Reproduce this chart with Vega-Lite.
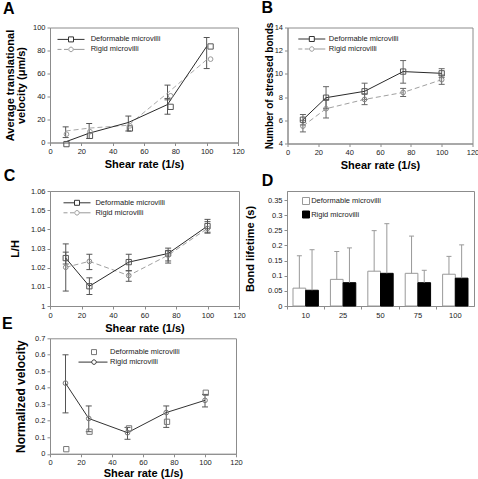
{
  "$schema": "https://vega.github.io/schema/vega-lite/v6.json",
  "background": "white",
  "padding": {"left": 1, "top": -1.5, "right": 0, "bottom": 0},
  "datasets": {
    "A_line": [
      {"x": 10, "y": 0.6, "series": "Deformable microvilli"},
      {"x": 25, "y": 8.1, "series": "Deformable microvilli"},
      {"x": 50, "y": 17.4, "series": "Deformable microvilli"},
      {"x": 75, "y": 33, "series": "Deformable microvilli"},
      {"x": 100, "y": 83.5, "series": "Deformable microvilli"},
      {"x": 10, "y": 10, "series": "Rigid microvilli"},
      {"x": 25, "y": 12.5, "series": "Rigid microvilli"},
      {"x": 50, "y": 15, "series": "Rigid microvilli"},
      {"x": 75, "y": 43, "series": "Rigid microvilli"},
      {"x": 100, "y": 72, "series": "Rigid microvilli"}
    ],
    "A_mk": [
      {"x": 10.5, "y": -1.4, "series": "Deformable microvilli"},
      {"x": 25.5, "y": 5.8, "series": "Deformable microvilli"},
      {"x": 51, "y": 12.2, "series": "Deformable microvilli"},
      {"x": 77, "y": 31, "series": "Deformable microvilli"},
      {"x": 102.5, "y": 83.5, "series": "Deformable microvilli"},
      {"x": 10.5, "y": 7.2, "series": "Rigid microvilli"},
      {"x": 25.5, "y": 9.4, "series": "Rigid microvilli"},
      {"x": 51, "y": 14.5, "series": "Rigid microvilli"},
      {"x": 77, "y": 40.6, "series": "Rigid microvilli"},
      {"x": 102.5, "y": 72.5, "series": "Rigid microvilli"}
    ],
    "A_err": [
      {"x": 10, "lo": 4.3, "hi": 13.6},
      {"x": 25, "lo": 3.5, "hi": 16.5},
      {"x": 50, "lo": 10, "hi": 23},
      {"x": 75, "lo": 24.6, "hi": 38.3},
      {"x": 75, "lo": 37.1, "hi": 49.9},
      {"x": 100, "lo": 64.3, "hi": 91.3}
    ],
    "B_line": [
      {"x": 10, "y": 6.05, "series": "Deformable microvilli"},
      {"x": 25, "y": 7.95, "series": "Deformable microvilli"},
      {"x": 50, "y": 8.5, "series": "Deformable microvilli"},
      {"x": 75, "y": 10.2, "series": "Deformable microvilli"},
      {"x": 100, "y": 10.05, "series": "Deformable microvilli"},
      {"x": 10, "y": 5.5, "series": "Rigid microvilli"},
      {"x": 25, "y": 7.0, "series": "Rigid microvilli"},
      {"x": 50, "y": 7.8, "series": "Rigid microvilli"},
      {"x": 75, "y": 8.4, "series": "Rigid microvilli"},
      {"x": 100, "y": 9.5, "series": "Rigid microvilli"}
    ],
    "B_err": [
      {"x": 10, "lo": 5.6, "hi": 6.5, "series": "Deformable microvilli"},
      {"x": 25, "lo": 7.0, "hi": 8.9, "series": "Deformable microvilli"},
      {"x": 50, "lo": 7.8, "hi": 9.2, "series": "Deformable microvilli"},
      {"x": 75, "lo": 9.2, "hi": 11.15, "series": "Deformable microvilli"},
      {"x": 100, "lo": 9.7, "hi": 10.45, "series": "Deformable microvilli"},
      {"x": 10, "lo": 5.0, "hi": 6.0, "series": "Rigid microvilli"},
      {"x": 25, "lo": 6.2, "hi": 7.8, "series": "Rigid microvilli"},
      {"x": 50, "lo": 7.35, "hi": 8.25, "series": "Rigid microvilli"},
      {"x": 75, "lo": 8.05, "hi": 8.75, "series": "Rigid microvilli"},
      {"x": 100, "lo": 9.1, "hi": 9.9, "series": "Rigid microvilli"}
    ],
    "C_line": [
      {"x": 10, "y": 1.025, "series": "Deformable microvilli"},
      {"x": 25, "y": 1.0103, "series": "Deformable microvilli"},
      {"x": 50, "y": 1.0229, "series": "Deformable microvilli"},
      {"x": 75, "y": 1.0274, "series": "Deformable microvilli"},
      {"x": 100, "y": 1.0417, "series": "Deformable microvilli"},
      {"x": 10, "y": 1.0202, "series": "Rigid microvilli"},
      {"x": 25, "y": 1.0233, "series": "Rigid microvilli"},
      {"x": 50, "y": 1.0159, "series": "Rigid microvilli"},
      {"x": 75, "y": 1.0265, "series": "Rigid microvilli"},
      {"x": 100, "y": 1.0405, "series": "Rigid microvilli"}
    ],
    "C_err": [
      {"x": 10, "lo": 1.0219, "hi": 1.0281, "series": "Deformable microvilli"},
      {"x": 25, "lo": 1.006, "hi": 1.0147, "series": "Deformable microvilli"},
      {"x": 50, "lo": 1.0184, "hi": 1.027, "series": "Deformable microvilli"},
      {"x": 75, "lo": 1.0235, "hi": 1.0302, "series": "Deformable microvilli"},
      {"x": 100, "lo": 1.0385, "hi": 1.0452, "series": "Deformable microvilli"},
      {"x": 10, "lo": 1.0078, "hi": 1.0324, "series": "Rigid microvilli"},
      {"x": 25, "lo": 1.019, "hi": 1.027, "series": "Rigid microvilli"},
      {"x": 50, "lo": 1.0129, "hi": 1.0184, "series": "Rigid microvilli"},
      {"x": 75, "lo": 1.0224, "hi": 1.029, "series": "Rigid microvilli"},
      {"x": 100, "lo": 1.038, "hi": 1.044, "series": "Rigid microvilli"}
    ],
    "D_bar": [
      {"rate": "10", "series": "Deformable microvilli", "y": 0.059, "hi": 0.166},
      {"rate": "10", "series": "Rigid microvilli", "y": 0.052, "hi": 0.186},
      {"rate": "25", "series": "Deformable microvilli", "y": 0.088, "hi": 0.18},
      {"rate": "25", "series": "Rigid microvilli", "y": 0.077, "hi": 0.192},
      {"rate": "50", "series": "Deformable microvilli", "y": 0.115, "hi": 0.249},
      {"rate": "50", "series": "Rigid microvilli", "y": 0.108, "hi": 0.272},
      {"rate": "75", "series": "Deformable microvilli", "y": 0.108, "hi": 0.231},
      {"rate": "75", "series": "Rigid microvilli", "y": 0.077, "hi": 0.118},
      {"rate": "100", "series": "Deformable microvilli", "y": 0.105, "hi": 0.164},
      {"rate": "100", "series": "Rigid microvilli", "y": 0.092, "hi": 0.202}
    ],
    "E_line": [
      {"x": 10, "y": 0.428, "series": "Rigid microvilli"},
      {"x": 25, "y": 0.214, "series": "Rigid microvilli"},
      {"x": 50, "y": 0.128, "series": "Rigid microvilli"},
      {"x": 75, "y": 0.25, "series": "Rigid microvilli"},
      {"x": 100, "y": 0.324, "series": "Rigid microvilli"}
    ],
    "E_err": [
      {"x": 10, "lo": 0.248, "hi": 0.6},
      {"x": 25, "lo": 0.134, "hi": 0.29},
      {"x": 50, "lo": 0.088, "hi": 0.16},
      {"x": 75, "lo": 0.16, "hi": 0.29},
      {"x": 100, "lo": 0.284, "hi": 0.36}
    ],
    "E_mk": [
      {"x": 10.5, "y": 0.028, "series": "Deformable microvilli"},
      {"x": 25.5, "y": 0.134, "series": "Deformable microvilli"},
      {"x": 51, "y": 0.154, "series": "Deformable microvilli"},
      {"x": 75.5, "y": 0.194, "series": "Deformable microvilli"},
      {"x": 100.5, "y": 0.37, "series": "Deformable microvilli"}
    ]
  },
  "spacing": -4.5,
  "resolve": {"scale": {"color": "independent", "shape": "independent", "fill": "independent", "stroke": "independent"}, "legend": {"color": "independent", "shape": "independent", "fill": "independent", "stroke": "independent"}},
  "vconcat": [
    {
      "resolve": {"scale": {"color": "independent", "shape": "independent"}, "legend": {"color": "independent", "shape": "independent"}},
      "hconcat": [
        {
          "width": 188, "height": 115,
          "title": {"text": "A", "dx": -47, "offset": 6.5},
          "encoding": {"x": {"field": "x", "type": "quantitative", "scale": {"domain": [0, 120], "nice": false, "zero": false}, "axis": {"title": "Shear rate (1/s)", "values": [0, 20, 40, 60, 80, 100, 120], "labelOverlap": false}}},
          "layer": [
            {"data": {"name": "A_err"}, "mark": {"type": "rule", "color": "#555555", "strokeWidth": 1},
             "encoding": {"y": {"field": "lo", "type": "quantitative", "scale": {"domain": [0, 100], "nice": false, "zero": false}, "axis": {"title": ["Average translational", "velocity (μm/s)"], "tickCount": 5, "labelOverlap": false, "labelSeparation": -40, "labelBound": false, "titlePadding": 5.5, "titleLineHeight": 11}}, "y2": {"field": "hi"}}},
            {"data": {"name": "A_err"}, "mark": {"type": "tick", "orient": "horizontal", "size": 6, "thickness": 1, "color": "#555555", "opacity": 1},
             "encoding": {"y": {"field": "lo", "type": "quantitative", "scale": {"domain": [0, 100], "nice": false, "zero": false}, "axis": {"labelOverlap": false}}}},
            {"data": {"name": "A_err"}, "mark": {"type": "tick", "orient": "horizontal", "size": 6, "thickness": 1, "color": "#555555", "opacity": 1},
             "encoding": {"y": {"field": "hi", "type": "quantitative", "scale": {"domain": [0, 100], "nice": false, "zero": false}, "axis": {"labelOverlap": false}}}},
            {"data": {"name": "A_line"}, "transform": [{"filter": "datum.series === 'Rigid microvilli'"}], "mark": {"type": "line", "strokeWidth": 1, "color": "#a8a8a8", "strokeDash": [5, 3]},
             "encoding": {"y": {"field": "y", "type": "quantitative", "scale": {"domain": [0, 100], "nice": false, "zero": false}, "axis": {"labelOverlap": false}}}},
            {"data": {"name": "A_line"}, "transform": [{"filter": "datum.series === 'Deformable microvilli'"}], "mark": {"type": "line", "strokeWidth": 1, "color": "#2a2a2a"},
             "encoding": {"y": {"field": "y", "type": "quantitative", "scale": {"domain": [0, 100], "nice": false, "zero": false}, "axis": {"labelOverlap": false}}}},
            {"data": {"name": "A_mk"}, "transform": [{"filter": "datum.series === 'Deformable microvilli'"}], "mark": {"type": "point", "shape": "square", "size": 28, "filled": false, "color": "#555555", "strokeWidth": 1, "opacity": 1},
             "encoding": {"y": {"field": "y", "type": "quantitative", "scale": {"domain": [0, 100], "nice": false, "zero": false}, "axis": {"labelOverlap": false}}}},
            {"data": {"name": "A_mk"}, "transform": [{"filter": "datum.series === 'Rigid microvilli'"}], "mark": {"type": "point", "shape": "circle", "size": 22, "filled": false, "color": "#999999", "strokeWidth": 1, "opacity": 1},
             "encoding": {"y": {"field": "y", "type": "quantitative", "scale": {"domain": [0, 100], "nice": false, "zero": false}, "axis": {"labelOverlap": false}}}},
            {"data": {"name": "A_line"}, "mark": {"type": "point", "opacity": 0, "filled": false},
             "encoding": {"y": {"field": "y", "type": "quantitative", "scale": {"domain": [0, 100], "nice": false, "zero": false}, "axis": {"labelOverlap": false}},
               "shape": {"field": "series", "type": "nominal", "scale": {"domain": ["Deformable microvilli", "Rigid microvilli"], "range": ["M-4.4,0H-2.2M-1.2,0H1M-2.2,-0.5H-1.2V0.5H-2.2Z", "M-4.4,0H-3.6M-3.1,0H-2.3M-1.2,0H1M-1.25,0A0.45,0.45 0 1,0 -2.15,0A0.45,0.45 0 1,0 -1.25,0"]},
                 "legend": {"title": null, "orient": "none", "legendX": 24, "legendY": 6.4, "symbolSize": 100, "labelOffset": 5.7, "rowPadding": -2, "symbolStrokeWidth": 1}},
               "color": {"field": "series", "type": "nominal", "scale": {"domain": ["Deformable microvilli", "Rigid microvilli"], "range": ["#333333", "#999999"]},
                 "legend": {"title": null, "orient": "none", "legendX": 24, "legendY": 6.4, "symbolSize": 100, "labelOffset": 5.7, "rowPadding": -2, "symbolStrokeWidth": 1}}}}
          ]
        },
        {
          "width": 185, "height": 116,
          "title": {"text": "B", "dx": -26, "offset": 6.5},
          "encoding": {"x": {"field": "x", "type": "quantitative", "scale": {"domain": [0, 120], "nice": false, "zero": false}, "axis": {"title": "Shear rate (1/s)", "values": [0, 20, 40, 60, 80, 100, 120], "labelOverlap": false}}},
          "layer": [
            {"data": {"name": "B_err"}, "mark": {"type": "rule", "strokeWidth": 1, "color": "#666666"},
             "encoding": {"y": {"field": "lo", "type": "quantitative", "scale": {"domain": [4, 14], "nice": false, "zero": false}, "axis": {"title": "Number of stressed bonds", "tickCount": 5, "labelOverlap": false, "labelSeparation": -40, "labelBound": false, "titlePadding": 0, "titleFontSize": 10}}, "y2": {"field": "hi"}}},
            {"data": {"name": "B_err"}, "mark": {"type": "tick", "orient": "horizontal", "size": 6, "thickness": 1, "opacity": 1, "color": "#666666"},
             "encoding": {"y": {"field": "lo", "type": "quantitative", "scale": {"domain": [4, 14], "nice": false, "zero": false}, "axis": {"labelOverlap": false}}}},
            {"data": {"name": "B_err"}, "mark": {"type": "tick", "orient": "horizontal", "size": 6, "thickness": 1, "opacity": 1, "color": "#666666"},
             "encoding": {"y": {"field": "hi", "type": "quantitative", "scale": {"domain": [4, 14], "nice": false, "zero": false}, "axis": {"labelOverlap": false}}}},
            {"data": {"name": "B_line"}, "transform": [{"filter": "datum.series === 'Rigid microvilli'"}], "mark": {"type": "line", "strokeWidth": 1, "color": "#a0a0a0", "strokeDash": [5, 3]},
             "encoding": {"y": {"field": "y", "type": "quantitative", "scale": {"domain": [4, 14], "nice": false, "zero": false}, "axis": {"labelOverlap": false}}}},
            {"data": {"name": "B_line"}, "transform": [{"filter": "datum.series === 'Deformable microvilli'"}], "mark": {"type": "line", "strokeWidth": 1, "color": "#2a2a2a"},
             "encoding": {"y": {"field": "y", "type": "quantitative", "scale": {"domain": [4, 14], "nice": false, "zero": false}, "axis": {"labelOverlap": false}}}},
            {"data": {"name": "B_line"}, "transform": [{"filter": "datum.series === 'Deformable microvilli'"}], "mark": {"type": "point", "shape": "square", "size": 28, "filled": false, "color": "#555555", "strokeWidth": 1, "opacity": 1},
             "encoding": {"y": {"field": "y", "type": "quantitative", "scale": {"domain": [4, 14], "nice": false, "zero": false}, "axis": {"labelOverlap": false}}}},
            {"data": {"name": "B_line"}, "transform": [{"filter": "datum.series === 'Rigid microvilli'"}], "mark": {"type": "point", "shape": "circle", "size": 22, "filled": false, "color": "#888888", "strokeWidth": 1, "opacity": 1},
             "encoding": {"y": {"field": "y", "type": "quantitative", "scale": {"domain": [4, 14], "nice": false, "zero": false}, "axis": {"labelOverlap": false}}}},
            {"data": {"name": "B_line"}, "mark": {"type": "point", "opacity": 0, "filled": false},
             "encoding": {"y": {"field": "y", "type": "quantitative", "scale": {"domain": [4, 14], "nice": false, "zero": false}, "axis": {"labelOverlap": false}},
               "shape": {"field": "series", "type": "nominal", "scale": {"domain": ["Deformable microvilli", "Rigid microvilli"], "range": ["M-4.4,0H-2.2M-1.2,0H1M-2.2,-0.5H-1.2V0.5H-2.2Z", "M-4.4,0H-3.6M-3.1,0H-2.3M-1.2,0H1M-1.25,0A0.45,0.45 0 1,0 -2.15,0A0.45,0.45 0 1,0 -1.25,0"]},
                 "legend": {"title": null, "orient": "none", "legendX": 27.3, "legendY": 6, "symbolSize": 100, "labelOffset": 3, "rowPadding": -1, "symbolStrokeWidth": 1}},
               "color": {"field": "series", "type": "nominal", "scale": {"domain": ["Deformable microvilli", "Rigid microvilli"], "range": ["#333333", "#999999"]},
                 "legend": {"title": null, "orient": "none", "legendX": 27.3, "legendY": 6, "symbolSize": 100, "labelOffset": 3, "rowPadding": -1, "symbolStrokeWidth": 1}}}}
          ]
        }
      ],
      "spacing": 49.5,
      "bounds": "flush"
    },
    {
      "spacing": -18.7,
      "resolve": {"scale": {"color": "independent", "shape": "independent", "fill": "independent", "stroke": "independent"}, "legend": {"color": "independent", "shape": "independent", "fill": "independent", "stroke": "independent"}},
      "vconcat": [
        {
          "resolve": {"scale": {"color": "independent", "shape": "independent", "fill": "independent", "stroke": "independent"}, "legend": {"color": "independent", "shape": "independent", "fill": "independent", "stroke": "independent"}},
          "hconcat": [
            {
              "width": 189, "height": 115,
              "title": {"text": "C", "dx": -46.3, "offset": 3},
              "encoding": {"x": {"field": "x", "type": "quantitative", "scale": {"domain": [0, 120], "nice": false, "zero": false}, "axis": {"title": "Shear rate (1/s)", "values": [0, 20, 40, 60, 80, 100, 120], "labelOverlap": false}}},
              "layer": [
                {"data": {"name": "C_err"}, "mark": {"type": "rule", "strokeWidth": 1, "color": "#555555"},
                 "encoding": {"y": {"field": "lo", "type": "quantitative", "scale": {"domain": [1, 1.06], "nice": false, "zero": false}, "axis": {"title": "L/H", "tickCount": 6, "format": ".2~f", "labelOverlap": false, "labelSeparation": -40, "labelBound": false, "titlePadding": 10}}, "y2": {"field": "hi"}}},
                {"data": {"name": "C_err"}, "mark": {"type": "tick", "orient": "horizontal", "size": 6, "thickness": 1, "opacity": 1, "color": "#555555"},
                 "encoding": {"y": {"field": "lo", "type": "quantitative", "scale": {"domain": [1, 1.06], "nice": false, "zero": false}, "axis": {"labelOverlap": false}}}},
                {"data": {"name": "C_err"}, "mark": {"type": "tick", "orient": "horizontal", "size": 6, "thickness": 1, "opacity": 1, "color": "#555555"},
                 "encoding": {"y": {"field": "hi", "type": "quantitative", "scale": {"domain": [1, 1.06], "nice": false, "zero": false}, "axis": {"labelOverlap": false}}}},
                {"data": {"name": "C_line"}, "transform": [{"filter": "datum.series === 'Rigid microvilli'"}], "mark": {"type": "line", "strokeWidth": 1, "color": "#a0a0a0", "strokeDash": [5, 3]},
                 "encoding": {"y": {"field": "y", "type": "quantitative", "scale": {"domain": [1, 1.06], "nice": false, "zero": false}, "axis": {"labelOverlap": false}}}},
                {"data": {"name": "C_line"}, "transform": [{"filter": "datum.series === 'Deformable microvilli'"}], "mark": {"type": "line", "strokeWidth": 1, "color": "#2a2a2a"},
                 "encoding": {"y": {"field": "y", "type": "quantitative", "scale": {"domain": [1, 1.06], "nice": false, "zero": false}, "axis": {"labelOverlap": false}}}},
                {"data": {"name": "C_line"}, "transform": [{"filter": "datum.series === 'Deformable microvilli'"}], "mark": {"type": "point", "shape": "square", "size": 28, "filled": false, "color": "#555555", "strokeWidth": 1, "opacity": 1},
                 "encoding": {"y": {"field": "y", "type": "quantitative", "scale": {"domain": [1, 1.06], "nice": false, "zero": false}, "axis": {"labelOverlap": false}}}},
                {"data": {"name": "C_line"}, "transform": [{"filter": "datum.series === 'Rigid microvilli'"}], "mark": {"type": "point", "shape": "circle", "size": 22, "filled": false, "color": "#888888", "strokeWidth": 1, "opacity": 1},
                 "encoding": {"y": {"field": "y", "type": "quantitative", "scale": {"domain": [1, 1.06], "nice": false, "zero": false}, "axis": {"labelOverlap": false}}}},
                {"data": {"name": "C_line"}, "mark": {"type": "point", "opacity": 0, "filled": false},
                 "encoding": {"y": {"field": "y", "type": "quantitative", "scale": {"domain": [1, 1.06], "nice": false, "zero": false}, "axis": {"labelOverlap": false}},
                   "shape": {"field": "series", "type": "nominal", "scale": {"domain": ["Deformable microvilli", "Rigid microvilli"], "range": ["M-4.4,0H-2.2M-1.2,0H1M-2.2,-0.5H-1.2V0.5H-2.2Z", "M-4.4,0H-3.6M-3.1,0H-2.3M-1.2,0H1M-1.25,0A0.45,0.45 0 1,0 -2.15,0A0.45,0.45 0 1,0 -1.25,0"]},
                     "legend": {"title": null, "orient": "none", "legendX": 30, "legendY": 6.3, "symbolSize": 100, "labelOffset": 4.4, "rowPadding": -0.3, "symbolStrokeWidth": 1}},
                   "color": {"field": "series", "type": "nominal", "scale": {"domain": ["Deformable microvilli", "Rigid microvilli"], "range": ["#333333", "#999999"]},
                     "legend": {"title": null, "orient": "none", "legendX": 30, "legendY": 6.3, "symbolSize": 100, "labelOffset": 4.4, "rowPadding": -0.3, "symbolStrokeWidth": 1}}}}
              ]
            },
            {
              "width": 187, "height": 115,
              "title": {"text": "D", "dx": -25.3, "offset": 2},
              "data": {"name": "D_bar"},
              "encoding": {"x": {"field": "rate", "type": "nominal", "sort": ["10", "25", "50", "75", "100"], "scale": {"paddingInner": 0, "paddingOuter": 0}, "axis": {"title": null, "labelAngle": 0, "bandPosition": 0, "labelOverlap": false}}},
              "layer": [
                {"mark": {"type": "bar", "strokeWidth": 1},
                 "encoding": {"xOffset": {"field": "series", "type": "nominal", "scale": {"domain": ["Deformable microvilli", "Rigid microvilli"], "paddingInner": 0, "paddingOuter": 0.474}},
                   "y": {"field": "y", "type": "quantitative", "scale": {"domain": [0, 0.38], "nice": false}, "axis": {"title": "Bond lifetime (s)", "tickCount": 8, "format": ".2~f", "labelOverlap": false, "labelSeparation": -40, "labelBound": false, "titlePadding": 12}},
                   "fill": {"field": "series", "type": "nominal", "scale": {"domain": ["Deformable microvilli", "Rigid microvilli"], "range": ["#ffffff", "#000000"]},
                     "legend": {"title": null, "orient": "none", "legendX": 15, "legendY": 6, "symbolType": "square", "symbolSize": 49, "symbolStrokeColor": "#777777", "symbolStrokeWidth": 1, "labelOffset": 1.2, "rowPadding": 1.5}},
                   "stroke": {"field": "series", "type": "nominal", "scale": {"domain": ["Deformable microvilli", "Rigid microvilli"], "range": ["#999999", "#000000"]}, "legend": null}}},
                {"mark": {"type": "rule", "color": "#999999", "strokeWidth": 1},
                 "encoding": {"xOffset": {"field": "series", "type": "nominal", "bandPosition": 0.5},
                   "y": {"field": "y", "type": "quantitative", "axis": {"labelOverlap": false}}, "y2": {"field": "hi"}}},
                {"mark": {"type": "tick", "orient": "horizontal", "size": 5, "thickness": 1, "color": "#999999", "opacity": 1},
                 "encoding": {"xOffset": {"field": "series", "type": "nominal", "bandPosition": 0.5},
                   "y": {"field": "hi", "type": "quantitative", "axis": {"labelOverlap": false}}}}
              ]
            }
          ],
          "spacing": 48,
          "bounds": "flush"
        },
        {
          "width": 186, "height": 115.5,
          "title": {"text": "E", "dx": -48, "offset": 2},
          "encoding": {"x": {"field": "x", "type": "quantitative", "scale": {"domain": [0, 120], "nice": false, "zero": false}, "axis": {"title": "Shear rate (1/s)", "values": [0, 20, 40, 60, 80, 100, 120], "labelOverlap": false, "titlePadding": 1.5}}},
          "layer": [
            {"data": {"name": "E_err"}, "mark": {"type": "rule", "strokeWidth": 1, "color": "#555555"},
             "encoding": {"y": {"field": "lo", "type": "quantitative", "scale": {"domain": [0, 0.7], "nice": false, "zero": false}, "axis": {"title": "Normalized velocity", "tickCount": 7, "format": ".1~f", "labelOverlap": false, "labelSeparation": -40, "labelBound": false, "titlePadding": 7.5, "titleFontSize": 12}}, "y2": {"field": "hi"}}},
            {"data": {"name": "E_err"}, "mark": {"type": "tick", "orient": "horizontal", "size": 6, "thickness": 1, "opacity": 1, "color": "#555555"},
             "encoding": {"y": {"field": "lo", "type": "quantitative", "scale": {"domain": [0, 0.7], "nice": false, "zero": false}, "axis": {"labelOverlap": false}}}},
            {"data": {"name": "E_err"}, "mark": {"type": "tick", "orient": "horizontal", "size": 6, "thickness": 1, "opacity": 1, "color": "#555555"},
             "encoding": {"y": {"field": "hi", "type": "quantitative", "scale": {"domain": [0, 0.7], "nice": false, "zero": false}, "axis": {"labelOverlap": false}}}},
            {"data": {"name": "E_line"}, "mark": {"type": "line", "strokeWidth": 1, "color": "#333333"},
             "encoding": {"y": {"field": "y", "type": "quantitative", "scale": {"domain": [0, 0.7], "nice": false, "zero": false}, "axis": {"labelOverlap": false}}}},
            {"data": {"name": "E_line"}, "mark": {"type": "point", "shape": "circle", "size": 22, "filled": false, "color": "#777777", "strokeWidth": 1, "opacity": 1},
             "encoding": {"y": {"field": "y", "type": "quantitative", "scale": {"domain": [0, 0.7], "nice": false, "zero": false}, "axis": {"labelOverlap": false}}}},
            {"data": {"name": "E_mk"}, "mark": {"type": "point", "shape": "square", "size": 28, "filled": false, "color": "#777777", "strokeWidth": 1, "opacity": 1},
             "encoding": {"y": {"field": "y", "type": "quantitative", "scale": {"domain": [0, 0.7], "nice": false, "zero": false}, "axis": {"labelOverlap": false}}}},
            {"data": {"name": "E_mk"}, "mark": {"type": "point", "opacity": 0, "filled": false},
             "encoding": {"y": {"field": "y", "type": "quantitative", "scale": {"domain": [0, 0.7], "nice": false, "zero": false}, "axis": {"labelOverlap": false}},
               "shape": {"field": "series", "type": "nominal", "scale": {"domain": ["Deformable microvilli", "Rigid microvilli"], "range": ["M-2.2,-0.5H-1.2V0.5H-2.2Z", "M-4.8,0H-2.15M-1.25,0H1M-1.25,0A0.45,0.45 0 1,0 -2.15,0A0.45,0.45 0 1,0 -1.25,0"]},
                 "legend": {"title": null, "orient": "none", "legendX": 47, "legendY": 8.3, "symbolSize": 100, "labelOffset": 2, "rowPadding": -2, "symbolStrokeWidth": 1}},
               "color": {"field": "series", "type": "nominal", "scale": {"domain": ["Deformable microvilli", "Rigid microvilli"], "range": ["#777777", "#333333"]},
                 "legend": {"title": null, "orient": "none", "legendX": 47, "legendY": 8.3, "symbolSize": 100, "labelOffset": 2, "rowPadding": -2, "symbolStrokeWidth": 1}}}}
          ]
        }
      ]
    }
  ],
  "config": {
    "font": "Liberation Sans",
    "view": {"stroke": "#8c8c8c", "strokeWidth": 1},
    "axis": {"grid": false, "domainColor": "#8c8c8c", "tickColor": "#8c8c8c", "tickSize": 3, "labelFont": "Liberation Sans", "labelFontSize": 7.5, "labelColor": "#222222", "labelPadding": 2, "labelFlush": false, "labelOverlap": false, "titleFont": "Liberation Sans", "titleFontSize": 11, "titleFontWeight": "bold", "titleColor": "#000000"},
    "axisX": {"titlePadding": 3.5},
    "legend": {"labelFont": "Liberation Sans", "labelFontSize": 7.5, "labelColor": "#222222", "padding": 0, "offset": 0, "symbolStrokeWidth": 1},
    "title": {"font": "Liberation Sans", "fontSize": 16, "fontWeight": "bold", "anchor": "start", "frame": "group", "color": "#000000", "baseline": "alphabetic"}
  }
}
